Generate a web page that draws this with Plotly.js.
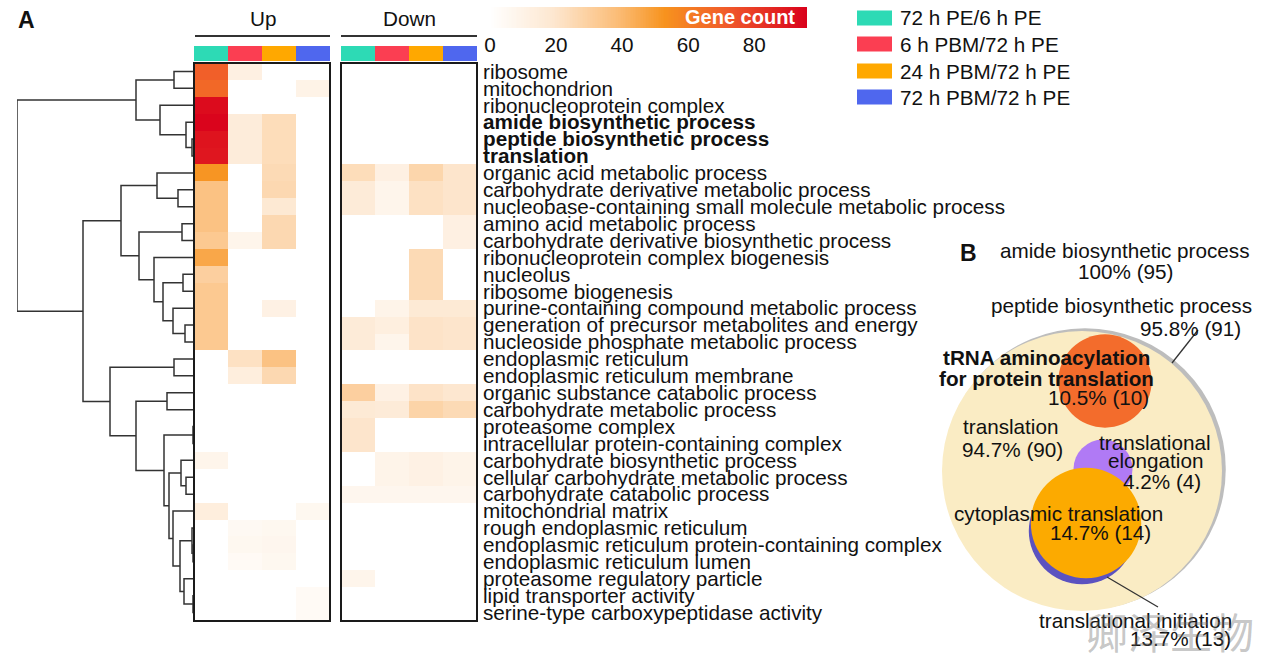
<!DOCTYPE html>
<html>
<head>
<meta charset="utf-8">
<script src="https://cdn.plot.ly/plotly-3.0.1.min.js"></script>
<style>html,body{margin:0;padding:0;background:#fff;}#chart{width:1267px;height:659px;}</style>
</head>
<body>
<div id="chart"></div>
<script>
// ---------------- DATA ----------------
const goTerms = [
  'ribosome','mitochondrion','ribonucleoprotein complex','amide biosynthetic process',
  'peptide biosynthetic process','translation','organic acid metabolic process',
  'carbohydrate derivative metabolic process','nucleobase-containing small molecule metabolic process',
  'amino acid metabolic process','carbohydrate derivative biosynthetic process',
  'ribonucleoprotein complex biogenesis','nucleolus','ribosome biogenesis',
  'purine-containing compound metabolic process','generation of precursor metabolites and energy',
  'nucleoside phosphate metabolic process','endoplasmic reticulum','endoplasmic reticulum membrane',
  'organic substance catabolic process','carbohydrate metabolic process','proteasome complex',
  'intracellular protein-containing complex','carbohydrate biosynthetic process',
  'cellular carbohydrate metabolic process','carbohydrate catabolic process','mitochondrial matrix',
  'rough endoplasmic reticulum','endoplasmic reticulum protein-containing complex',
  'endoplasmic reticulum lumen','proteasome regulatory particle','lipid transporter activity',
  'serine-type carboxypeptidase activity'
];
const highlightedTerms = ['amide biosynthetic process','peptide biosynthetic process','translation'];

const comparisons = ['72 h PE/6 h PE','6 h PBM/72 h PE','24 h PBM/72 h PE','72 h PBM/72 h PE'];
const comparisonColors = ['#2ddab5','#fb3e52','#ffa800','#4f67ee'];
const directions = ['Up','Down'];

// gene counts per comparison (Up-regulated)
const up72PE_6PE   = [70,67,93,95,91,90,52,36,36,36,33,46,30,33,33,33,33,0,0,0,0,0,0,8,0,0,14,0,0,0,0,0,0];
const up6PBM_72PE  = [12,0,0,15,15,15,0,0,0,0,8,0,0,0,0,0,0,22,14,0,0,0,0,0,0,0,0,5,6,4,0,0,0];
const up24PBM_72PE = [0,0,0,24,24,24,25,26,18,26,26,0,0,0,11,0,0,36,26,0,0,0,0,0,0,0,0,6,7,6,0,0,0];
const up72PBM_72PE = [0,10,0,0,0,0,0,0,0,0,0,0,0,0,0,0,0,0,0,0,0,0,0,0,0,0,6,0,0,0,0,4,4];
// gene counts per comparison (Down-regulated)
const down72PE_6PE   = [0,0,0,0,0,0,24,16,16,0,0,0,0,0,0,16,16,0,0,30,17,20,20,0,0,7,0,0,0,0,8,0,0];
const down6PBM_72PE  = [0,0,0,0,0,0,12,8,8,0,0,0,0,0,9,13,8,0,0,11,16,0,0,9,9,7,0,0,0,0,0,0,0];
const down24PBM_72PE = [0,0,0,0,0,0,27,22,22,0,0,25,25,25,17,21,21,0,0,21,28,0,0,11,11,7,0,0,0,0,0,0,0];
const down72PBM_72PE = [0,0,0,0,0,0,20,20,20,12,12,0,0,0,17,20,20,0,0,19,25,0,0,9,9,7,0,0,0,0,0,0,0];

const countMax = 96;
const colorbarTicks = [0,20,40,60,80];
const colorbarTitle = 'Gene count';

// hierarchical clustering of the 33 terms: [childA, childB, height]; nodes numbered from 33
const linkage = [
  [0,1,20],[4,5,2],[3,34,8],[2,35,34],[33,36,58],
  [7,8,16],[6,38,37],[9,10,12],[12,13,11],[15,16,9],[14,42,21],[41,43,31],[11,44,40],[40,45,55],[39,46,73],
  [17,18,20],[19,20,27],[21,22,1],[24,25,8],[23,51,13],[28,29,1],[27,53,2],[31,32,1],[30,55,10],
  [54,56,14],[26,57,21],[52,58,25],[50,59,30],[49,60,58],[48,61,84],[47,62,111],[37,63,177]
];

// Panel B: nested GO terms (gene count, % of 95)
const bTerms = ['amide biosynthetic process','peptide biosynthetic process','translation',
  'tRNA aminoacylation for protein translation','translational elongation',
  'translational initiation','cytoplasmic translation'];
const bCounts = [95,91,90,10,4,13,14];
const bPercent = ['100','95.8','94.7','10.5','4.2','13.7','14.7'];
const bColors = [null,'#bdbdbd','#faecc4','#f36c2c','#b07af5','#5b52c0','#fcaa00'];
const watermark = '卿泽生物';

// ---------------- LAYOUT HELPERS ----------------
const W = 1267, H = 659;
const px = x => x / W, py = y => 1 - y / H;
const FONT = 'Liberation Sans, Arial, Helvetica, sans-serif';
const FS = 20.7;
const n = goTerms.length;
const rows = goTerms.map((_, i) => i);

const upCols = [up72PE_6PE, up6PBM_72PE, up24PBM_72PE, up72PBM_72PE];
const downCols = [down72PE_6PE, down6PBM_72PE, down24PBM_72PE, down72PBM_72PE];
const zUp = rows.map(i => upCols.map(c => c[i]));
const zDown = rows.map(i => downCols.map(c => c[i]));

const colorscale = [[0,'#ffffff'],[0.2,'#fde7d0'],[0.4,'#fbbd78'],[0.55,'#f7931e'],[0.75,'#f0592a'],[1,'#d9001b']];

// colour ramp for the gene-count key
const ramp = [];
for (let v = 0; v <= countMax; v += 0.5) ramp.push(v);

// dendrogram path
const nodeY = {}, nodeH = {};
rows.forEach(i => { nodeY[i] = i; nodeH[i] = 0; });
const dx = [], dy = [];
linkage.forEach((m, k) => {
  const id = n + k, [a, b, h] = m;
  dx.push(nodeH[a], h, h, nodeH[b], null);
  dy.push(nodeY[a], nodeY[a], nodeY[b], nodeY[b], null);
  nodeY[id] = (nodeY[a] + nodeY[b]) / 2; nodeH[id] = h;
});
const rootH = linkage[linkage.length - 1][2];

// discrete strip colorscale
const stripScale = [];
comparisonColors.forEach((c, i) => { stripScale.push([i / 4, c]); stripScale.push([(i + 1) / 4, c]); });

const traces = [
  {type:'heatmap', z:zUp, x:[0,1,2,3], y:rows, xaxis:'x', yaxis:'y', coloraxis:'coloraxis'},
  {type:'heatmap', z:zDown, x:[0,1,2,3], y:rows, xaxis:'x2', yaxis:'y', coloraxis:'coloraxis'},
  {type:'heatmap', z:[[0,1,2,3]], x:[0,1,2,3], y:[0], xaxis:'x', yaxis:'y2', colorscale:stripScale, zmin:-0.5, zmax:3.5, showscale:false},
  {type:'heatmap', z:[[0,1,2,3]], x:[0,1,2,3], y:[0], xaxis:'x2', yaxis:'y2', colorscale:stripScale, zmin:-0.5, zmax:3.5, showscale:false},
  {type:'heatmap', z:[ramp], x:ramp, y:[0], xaxis:'x5', yaxis:'y5', coloraxis:'coloraxis'},
  {type:'scatter', mode:'lines', x:dx, y:dy, xaxis:'x3', yaxis:'y', line:{color:'#333', width:1.5}, hoverinfo:'skip'}
];

// Panel B circles (area proportional to gene count)
const bigR = 140, k = 2 * bigR / Math.sqrt(bCounts[2]);
const bCenters = [null,[1085,469],[1082,471],[1105,381],[1103,469],[1082,531],[1086,523]];
[1,2,3,4,5,6].forEach(i => {
  traces.push({type:'scatter', mode:'markers', x:[bCenters[i][0]], y:[bCenters[i][1]], xaxis:'x4', yaxis:'y4',
    marker:{size:k * Math.sqrt(bCounts[i]), sizemode:'diameter', color:bColors[i], line:{width:0}, opacity:1}, hoverinfo:'skip'});
});
traces.push({type:'scatter', mode:'lines', x:[1198,1172,null,1107,1158], y:[330,363,null,577,607], xaxis:'x4', yaxis:'y4',
  line:{color:'#333', width:1.3}, hoverinfo:'skip'});

const ticktext = goTerms.map(t => highlightedTerms.includes(t) ? '<b>' + t + '</b>' : t);

const shapes = [];
const annotations = [];
const ann = (x, y, text, opts) => annotations.push(Object.assign({xref:'paper', yref:'paper', x:px(x), y:py(y), text:text,
  showarrow:false, xanchor:'center', yanchor:'middle', font:{size:FS, color:'#111', family:FONT}}, opts || {}));
// heatmap boxes
['x','x2'].forEach(ax => shapes.push({type:'rect', xref:ax + ' domain', yref:'y domain', x0:0, x1:1, y0:0, y1:1, line:{color:'#1a1a1a', width:2}}));
// Up/Down header lines and text
[[195,330],[341,477]].forEach((s, i) => {
  shapes.push({type:'line', xref:'paper', yref:'paper', x0:px(s[0]), x1:px(s[1]), y0:py(36), y1:py(36), line:{color:'#333', width:2}});
  ann((s[0] + s[1]) / 2, 19, directions[i]);
});
// legend
const legY = [18,44,71,97];
comparisons.forEach((c, i) => {
  shapes.push({type:'rect', xref:'paper', yref:'paper', x0:px(857), x1:px(892), y0:py(legY[i] - 7.5), y1:py(legY[i] + 7.5), fillcolor:comparisonColors[i], line:{width:0}});
  ann(898, legY[i], c, {xanchor:'left'});
});
// panel letters
ann(26, 20, '<b>A</b>', {font:{size:23, color:'#111', family:FONT}});
ann(968, 253, '<b>B</b>', {font:{size:23, color:'#111', family:FONT}});
// Gene count label on the key
ann(740, 17, '<b>' + colorbarTitle + '</b>', {font:{size:20, color:'#fff', family:FONT}});

// Panel B labels
const pctLabel = i => bPercent[i] + '% (' + bCounts[i] + ')';
const bLab = (x, y, t, anchor, bold) => ann(x, y, bold ? '<b>' + t + '</b>' : t, {xanchor:anchor || 'center'});
bLab(1125, 250, bTerms[0]); bLab(1125, 271, pctLabel(0));
bLab(1121, 306, bTerms[1]); bLab(1190, 328, pctLabel(1));
const tr = bTerms[3].split(' for ');
bLab(1046, 358, tr[0], 'center', true); bLab(1046, 378, 'for ' + tr[1], 'center', true); bLab(1098, 397, pctLabel(3));
bLab(961, 427, bTerms[2], 'left'); bLab(960, 449, pctLabel(2), 'left');
const el = bTerms[4].split(' ');
bLab(1155, 442, el[0]); bLab(1155, 460, el[1]); bLab(1162, 481, pctLabel(4));
bLab(1058, 513, bTerms[6]); bLab(1100, 532, pctLabel(6));
bLab(1135, 620, bTerms[5]); bLab(1180, 638, pctLabel(5));
// watermark
ann(1170, 630, watermark, {font:{size:42, color:'rgba(110,110,110,0.4)', family:'Noto Sans CJK SC'}});

const hidden = {visible:false, showgrid:false, zeroline:false, fixedrange:true};
const layout = {
  width:W, height:H, margin:{l:0,r:0,t:0,b:0}, paper_bgcolor:'#fff', plot_bgcolor:'rgba(0,0,0,0)',
  showlegend:false, font:{family:FONT, color:'#111'},
  xaxis: Object.assign({}, hidden, {domain:[px(194), px(330)], range:[-0.5,3.5], anchor:'y'}),
  xaxis2: Object.assign({}, hidden, {domain:[px(341), px(477)], range:[-0.5,3.5], anchor:'y'}),
  xaxis3: Object.assign({}, hidden, {domain:[px(17), px(194)], range:[rootH, 0], anchor:'y'}),
  xaxis4: Object.assign({}, hidden, {domain:[0,1], range:[0,W], anchor:'y4'}),
  xaxis5: {domain:[px(490), px(807)], range:[0, countMax], anchor:'y5', showgrid:false, zeroline:false, showline:false,
    tickmode:'array', tickvals:colorbarTicks, ticks:'', ticklabelstandoff:2, tickfont:{size:FS, color:'#111', family:FONT}, fixedrange:true},
  yaxis: {domain:[py(621), py(63)], range:[n - 0.5, -0.5], anchor:'x2', side:'right', showgrid:false, zeroline:false,
    tickmode:'array', tickvals:rows, ticktext:ticktext, ticks:'', ticklabelstandoff:5,
    tickfont:{size:FS, color:'#111', family:FONT}, showline:false, fixedrange:true},
  yaxis2: Object.assign({}, hidden, {domain:[py(61), py(46)], range:[-0.5,0.5], anchor:'x'}),
  yaxis4: Object.assign({}, hidden, {domain:[0,1], range:[H,0], anchor:'x4'}),
  yaxis5: Object.assign({}, hidden, {domain:[py(28), py(7)], range:[-0.5,0.5], anchor:'x5'}),
  coloraxis: {cmin:0, cmax:countMax, colorscale:colorscale, showscale:false},
  shapes:shapes, annotations:annotations
};
Plotly.newPlot('chart', traces, layout, {displayModeBar:false, staticPlot:true});
</script>
</body>
</html>
